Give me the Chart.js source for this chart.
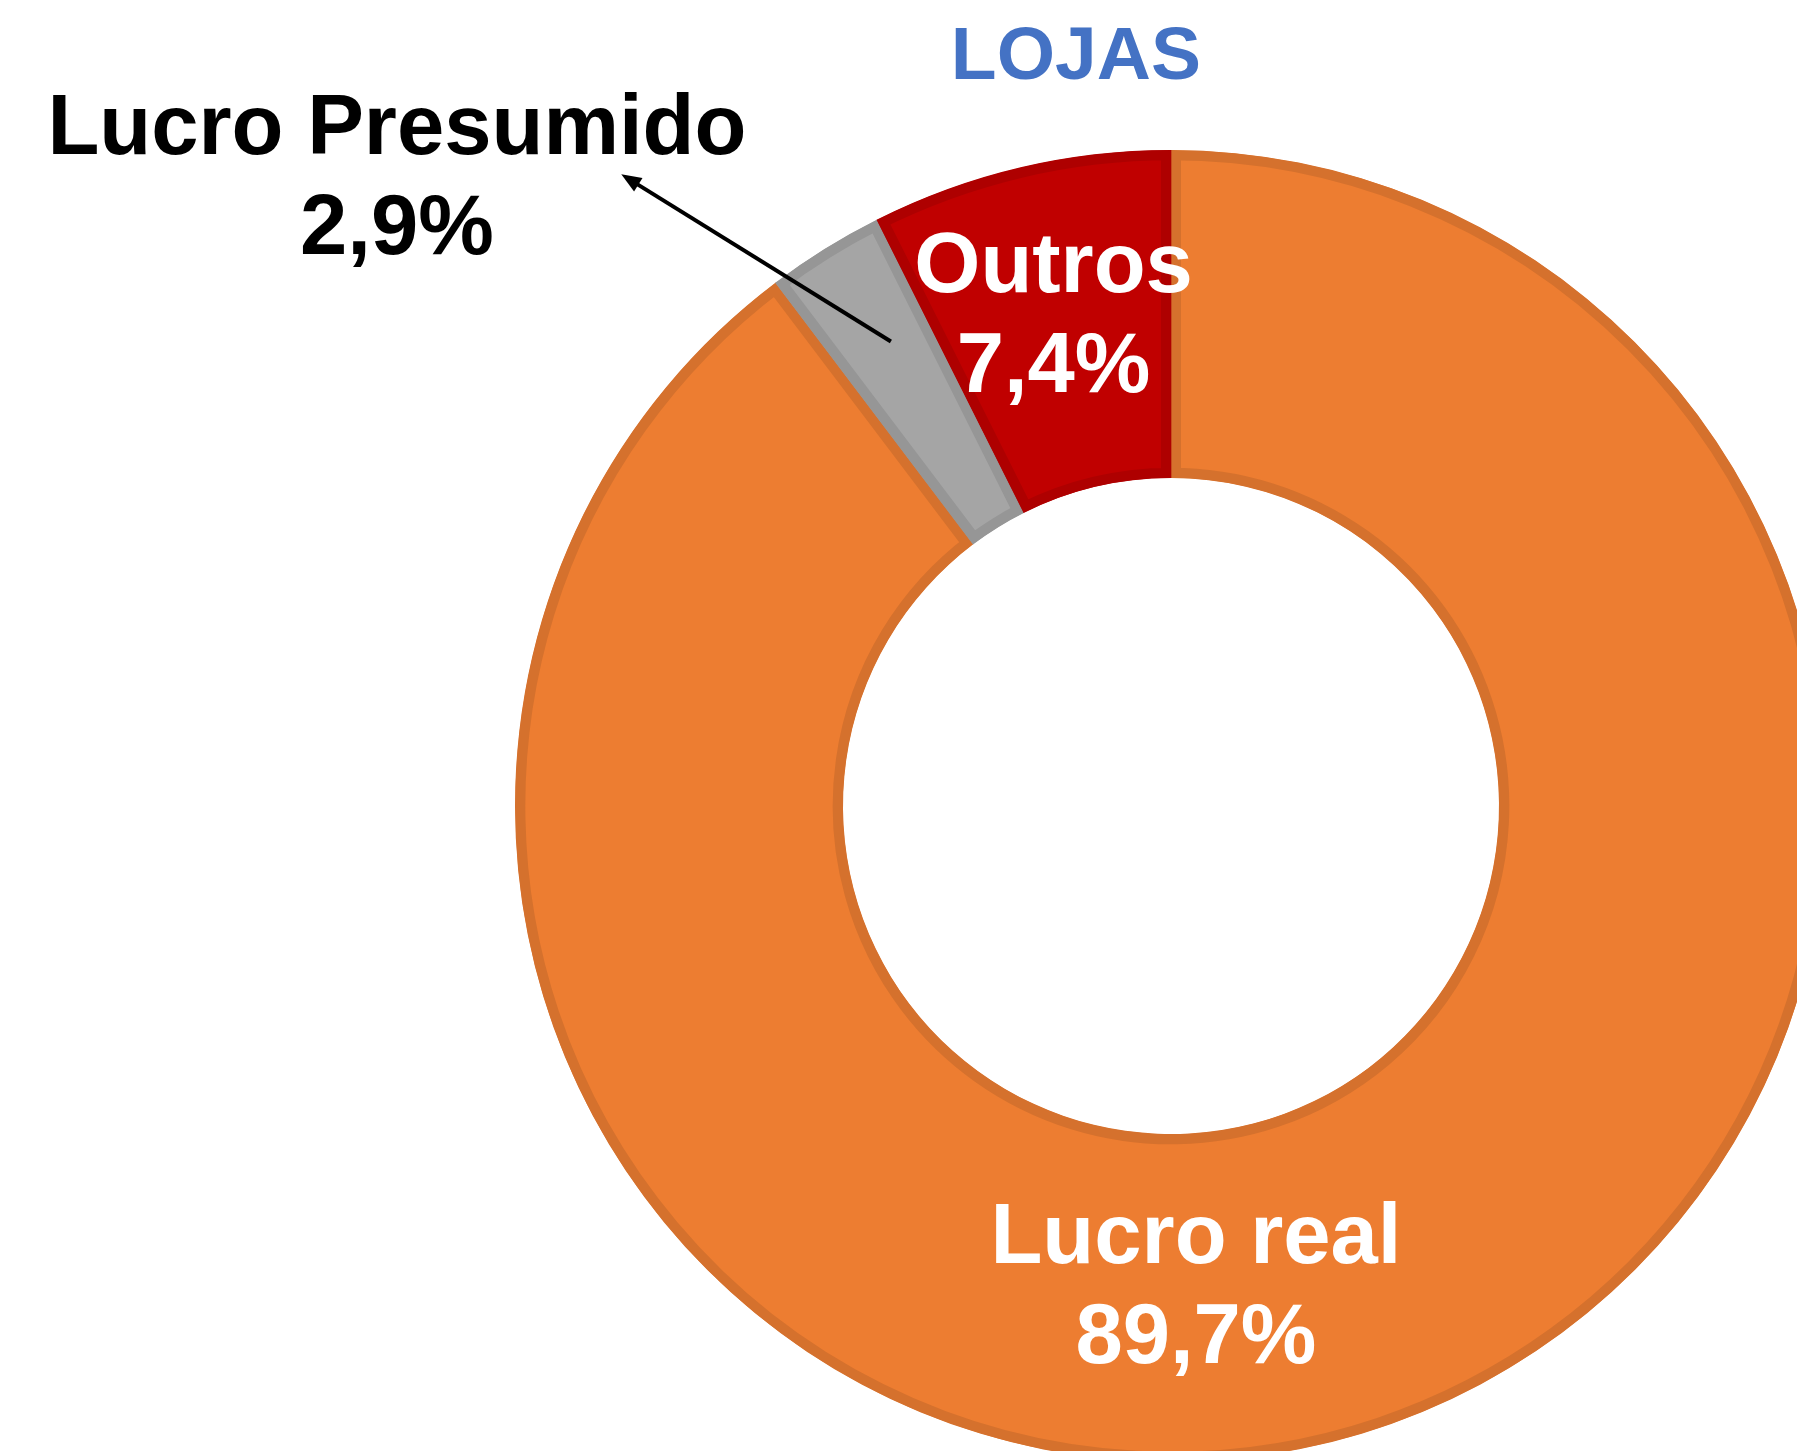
<!DOCTYPE html>
<html>
<head>
<meta charset="utf-8">
<script src="https://cdn.jsdelivr.net/npm/chart.js@4"></script>
<style>
  html, body { margin: 0; padding: 0; background: #fff; overflow: hidden; }
  #wrap { position: relative; width: 1797px; height: 1451px; overflow: hidden; }
  #chart { position: absolute; left: 0; top: 0; }
</style>
</head>
<body>
<div id="wrap"><canvas id="chart" width="2342" height="1612"></canvas></div>
<script>
const categories = ['Lucro real', 'Lucro Presumido', 'Outros'];
const shares = [89.7, 2.9, 7.4];
const valueLabels = ['89,7%', '2,9%', '7,4%'];
const fills = ['#ED7D31', '#A5A5A5', '#C00000'];
const borders = ['#D5712D', '#969696', '#AE0000'];
const titleText = 'LOJAS';

// label placement, in units of the outer radius, relative to the centre
const labelSpots = [
  { dx: 0.038, dy: 0.697, color: '#ffffff' },
  { dx: -1.18, dy: -0.994, color: '#000000' },
  { dx: -0.179, dy: -0.783, color: '#ffffff' }
];

const labelPlugin = {
  id: 'sliceLabels',
  afterDatasetsDraw(chart) {
    const arc = chart.getDatasetMeta(0).data[0];
    const cx = arc.x, cy = arc.y, R = arc.outerRadius;
    const ctx = chart.ctx;
    ctx.save();
    ctx.textAlign = 'center';
    ctx.textBaseline = 'alphabetic';

    // title
    ctx.fillStyle = '#4472C4';
    ctx.font = 'bold 75px "Liberation Sans", Arial, sans-serif';
    ctx.fillText(titleText, cx - 0.145 * R, cy - 1.108 * R);

    ctx.font = 'bold 85px "Liberation Sans", Arial, sans-serif';
    categories.forEach((name, i) => {
      const s = labelSpots[i];
      const x = cx + s.dx * R, y = cy + s.dy * R;
      ctx.fillStyle = s.color;
      ctx.fillText(name, x, y);
      ctx.fillText(valueLabels[i], x, y + 100);
    });

    // leader arrow for the small slice
    const tx = cx - 0.427 * R, ty = cy - 0.708 * R;
    const hx = cx - 0.838 * R, hy = cy - 0.963 * R;
    const ang = Math.atan2(hy - ty, hx - tx);
    ctx.strokeStyle = '#000';
    ctx.lineWidth = 4;
    ctx.beginPath();
    ctx.moveTo(tx, ty);
    ctx.lineTo(hx - 12 * Math.cos(ang), hy - 12 * Math.sin(ang));
    ctx.stroke();
    ctx.fillStyle = '#000';
    ctx.beginPath();
    ctx.moveTo(hx, hy);
    ctx.lineTo(hx - 20 * Math.cos(ang) + 8 * Math.sin(ang), hy - 20 * Math.sin(ang) - 8 * Math.cos(ang));
    ctx.lineTo(hx - 20 * Math.cos(ang) - 8 * Math.sin(ang), hy - 20 * Math.sin(ang) + 8 * Math.cos(ang));
    ctx.closePath();
    ctx.fill();
    ctx.restore();
  }
};

new Chart(document.getElementById('chart'), {
  type: 'doughnut',
  data: {
    labels: categories,
    datasets: [{
      data: shares,
      backgroundColor: fills,
      borderColor: borders,
      borderWidth: 10,
      borderAlign: 'inner',
      hoverOffset: 0,
      offset: 0
    }]
  },
  options: {
    responsive: false,
    animation: false,
    cutout: '50%',
    layout: { padding: { top: 150, bottom: 150 } },
    plugins: {
      legend: { display: false },
      tooltip: { enabled: false },
      title: { display: false }
    }
  },
  plugins: [labelPlugin]
});
</script>
</body>
</html>
